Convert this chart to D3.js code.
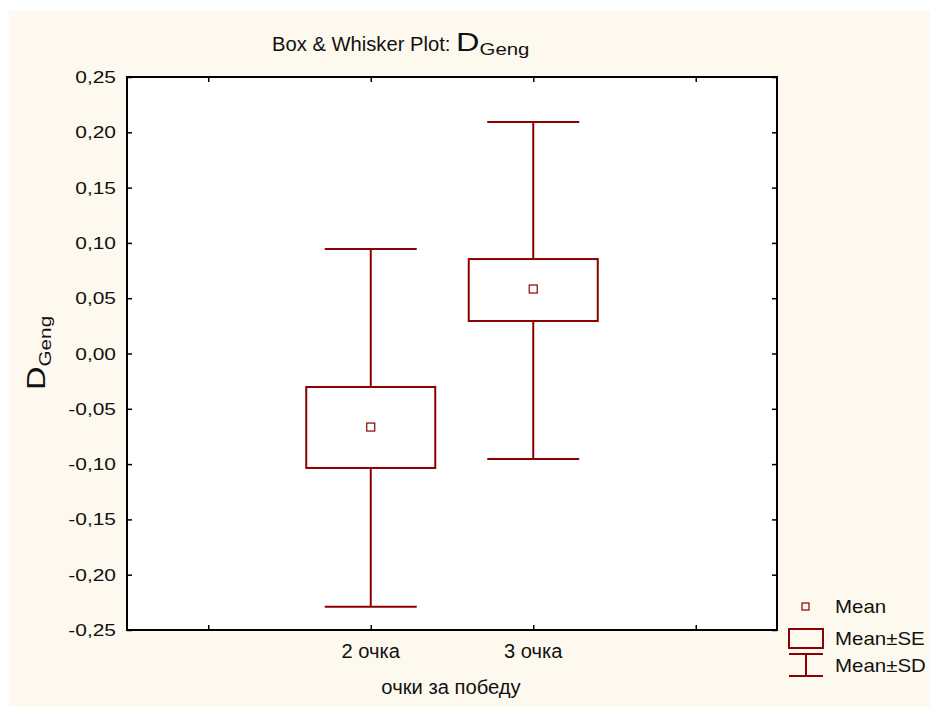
<!DOCTYPE html>
<html>
<head>
<meta charset="utf-8">
<script src="https://cdn.jsdelivr.net/npm/d3@7"></script>
<style>
  html, body { margin: 0; padding: 0; background: #ffffff; }
  svg { display: block; }
  text { font-family: "Liberation Sans", Arial, sans-serif; fill: #111; }
</style>
</head>
<body>
<svg id="chart" width="930" height="707"></svg>
<script>
// Groups and their summary statistics for D_Geng
const categories = ["2 очка", "3 очка"];
const means   = [-0.0665, 0.0583];
const seLow   = [-0.1035, 0.0294];
const seHigh  = [-0.0303, 0.0854];
const sdLow   = [-0.229, -0.0954];
const sdHigh  = [0.0945, 0.2093];
const yTicks  = [-0.25, -0.20, -0.15, -0.10, -0.05, 0.00, 0.05, 0.10, 0.15, 0.20, 0.25];
const xTickPositions = [0.5, 1.5, 2.5, 3.5];
const categoryPositions = [1.5, 2.5];

const svg = d3.select("#chart");
const red = "#8b0000";

// horizontally scalable text label
function label(parent, x, y, str, size, sx, anchor) {
  return parent.append("text")
    .attr("transform", `translate(${x},${y}) scale(${sx},1)`)
    .attr("font-size", size)
    .attr("text-anchor", anchor || "start")
    .text(str);
}

// cream panel
svg.append("rect").attr("x", 9).attr("y", 11).attr("width", 921).attr("height", 696)
  .attr("fill", "#fdf9ef");

const plot = { left: 127, right: 777, top: 77, bottom: 630 };

const x = d3.scaleLinear().domain([0, 4]).range([plot.left, plot.right]);
const y = d3.scaleLinear().domain([-0.25, 0.25]).range([plot.bottom, plot.top]);

// plot background
svg.append("rect")
  .attr("x", plot.left).attr("y", plot.top)
  .attr("width", plot.right - plot.left).attr("height", plot.bottom - plot.top)
  .attr("fill", "#ffffff");

const fmt = d => d3.format(".2f")(d).replace(".", ",").replace("−", "-");

// ticks on all four sides, pointing inward
const gL = svg.append("g").attr("transform", `translate(${plot.left},0)`)
  .call(d3.axisRight(y).tickValues(yTicks).tickSize(5).tickFormat(""));
const gR = svg.append("g").attr("transform", `translate(${plot.right},0)`)
  .call(d3.axisLeft(y).tickValues(yTicks).tickSize(5).tickFormat(""));
const gB = svg.append("g").attr("transform", `translate(0,${plot.bottom})`)
  .call(d3.axisTop(x).tickValues(xTickPositions).tickSize(5).tickFormat(""));
const gT = svg.append("g").attr("transform", `translate(0,${plot.top})`)
  .call(d3.axisBottom(x).tickValues(xTickPositions).tickSize(5).tickFormat(""));
[gL, gR, gB, gT].forEach(g => {
  g.select(".domain").remove();
  g.selectAll(".tick line").attr("stroke", "#000").attr("stroke-width", 1.5);
});

// frame
svg.append("rect")
  .attr("x", plot.left).attr("y", plot.top)
  .attr("width", plot.right - plot.left).attr("height", plot.bottom - plot.top)
  .attr("fill", "none").attr("stroke", "#000").attr("stroke-width", 2);

// y tick labels
const yLabels = svg.append("g");
yTicks.forEach(t => label(yLabels, plot.left - 11, y(t) + 6, fmt(t), 16.5, 1.27, "end"));

// x category labels
const xLabels = svg.append("g");
categories.forEach((c, i) => label(xLabels, x(categoryPositions[i]), 658, c, 19.5, 1.03, "middle"));

// x axis title
label(svg, 451, 694, "очки за победу", 20, 1.01, "middle");

// chart title, laid out piece by piece
const titleG = svg.append("g");
let tx = 272;
const t1 = label(titleG, tx, 51, "Box & Whisker Plot:\u00a0", 20, 1.01);
tx += t1.node().getComputedTextLength() * 1.01;
const t2 = label(titleG, tx, 51, "D", 25, 1.3);
tx += t2.node().getComputedTextLength() * 1.3;
label(titleG, tx, 55, "Geng", 17, 1.2);

// y axis title, rotated
const ylab = svg.append("g").attr("transform", "translate(45,390) rotate(-90)");
const yd = label(ylab, 0, 0, "D", 25, 1.3);
const ydw = yd.node().getComputedTextLength() * 1.3;
label(ylab, ydw, 6, "Geng", 17, 1.22);

// boxes and whiskers
const boxW = 129, capW = 92, meanSize = 8;
const groups = svg.append("g").selectAll("g").data(categories).join("g");
groups.each(function(d, i) {
  const g = d3.select(this);
  const cx = x(categoryPositions[i]);
  // whiskers (mean ± SD)
  g.append("line").attr("x1", cx).attr("x2", cx)
    .attr("y1", y(sdHigh[i])).attr("y2", y(seHigh[i]))
    .attr("stroke", red).attr("stroke-width", 2);
  g.append("line").attr("x1", cx).attr("x2", cx)
    .attr("y1", y(seLow[i])).attr("y2", y(sdLow[i]))
    .attr("stroke", red).attr("stroke-width", 2);
  [sdHigh[i], sdLow[i]].forEach(v => {
    g.append("line").attr("x1", cx - capW / 2).attr("x2", cx + capW / 2)
      .attr("y1", y(v)).attr("y2", y(v))
      .attr("stroke", red).attr("stroke-width", 2);
  });
  // box (mean ± SE)
  g.append("rect").attr("x", cx - boxW / 2).attr("width", boxW)
    .attr("y", y(seHigh[i])).attr("height", y(seLow[i]) - y(seHigh[i]))
    .attr("fill", "none").attr("stroke", red).attr("stroke-width", 2);
  // mean marker
  g.append("rect").attr("x", cx - meanSize / 2).attr("y", y(means[i]) - meanSize / 2)
    .attr("width", meanSize).attr("height", meanSize)
    .attr("fill", "none").attr("stroke", red).attr("stroke-width", 1.2);
});

// legend
const lg = svg.append("g");
lg.append("rect").attr("x", 802).attr("y", 603).attr("width", 7).attr("height", 7)
  .attr("fill", "none").attr("stroke", red).attr("stroke-width", 1.2);
label(lg, 835, 613, "Mean", 17.5, 1.17);
lg.append("rect").attr("x", 789).attr("y", 629).attr("width", 34).attr("height", 19)
  .attr("fill", "none").attr("stroke", red).attr("stroke-width", 2);
label(lg, 835, 645, "Mean±SE", 17.5, 1.17);
lg.append("line").attr("x1", 789).attr("x2", 823).attr("y1", 654).attr("y2", 654)
  .attr("stroke", red).attr("stroke-width", 2);
lg.append("line").attr("x1", 789).attr("x2", 823).attr("y1", 676).attr("y2", 676)
  .attr("stroke", red).attr("stroke-width", 2);
lg.append("line").attr("x1", 806).attr("x2", 806).attr("y1", 654).attr("y2", 676)
  .attr("stroke", red).attr("stroke-width", 2);
label(lg, 835, 672, "Mean±SD", 17.5, 1.17);
</script>
</body>
</html>
